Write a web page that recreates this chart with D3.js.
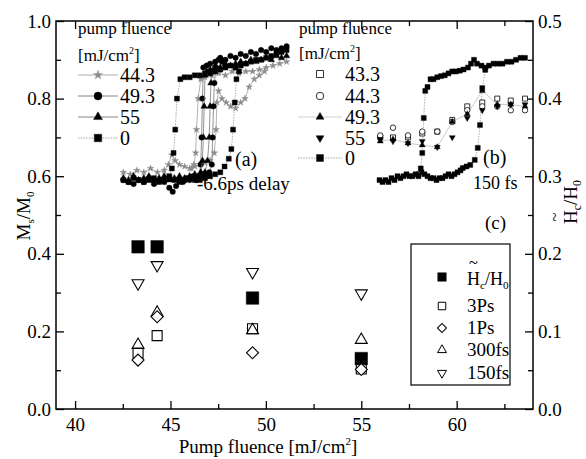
<!DOCTYPE html>
<html><head><meta charset="utf-8">
<script src="https://cdn.jsdelivr.net/npm/d3@7"></script>
<style>body{margin:0;background:#fff}</style>
</head><body><svg id="c" width="586" height="459" font-family="Liberation Serif, DejaVu Serif, serif"></svg>
<script>
// ---------- main panel (c) data ----------
const fluence = [43.3, 44.3, 49.3, 55];
const hcRatio = [0.209, 0.209, 0.143, 0.065];      // right axis  H~c/H0
const ms3ps   = [0.144, 0.189, 0.207, 0.103];      // left axis Ms/M0
const ms1ps   = [0.126, 0.238, 0.145, 0.102];
const ms300fs = [0.165, 0.248, 0.203, 0.178];
const ms150fs = [0.324, 0.371, 0.353, 0.298];
const xTicks = [40, 45, 50, 55, 60];
const xMinor = [42.5, 47.5, 52.5, 57.5, 62.5];
const yLeftTicks = [0, 0.2, 0.4, 0.6, 0.8, 1.0];
const yLeftMinor = [0.1, 0.3, 0.5, 0.7, 0.9];
const yRightTicks = [0, 0.1, 0.2, 0.3, 0.4, 0.5];
const yRightMinor = [0.05, 0.15, 0.25, 0.35, 0.45];

// ---------- inset (a): -6.6 ps delay, field H (a.u.) vs Ms/M0 ----------
const a443_low = [[-96,0.61],[-88,0.605],[-80,0.615],[-72,0.61],[-64,0.62],[-56,0.61],[-48,0.615],[-43,0.63],[-39,0.655],[-35,0.64],[-30,0.63],[-24,0.625],[-18,0.62],[-12,0.625],[-6,0.63],[0,0.635],[6,0.64],[11,0.66],[13,0.72],[14,0.79],[16,0.82],[20,0.80],[25,0.79],[30,0.78],[36,0.775],[42,0.79],[47,0.80],[52,0.83],[58,0.85],[64,0.86],[70,0.87]];
const a443_up  = [[96,0.895],[88,0.89],[80,0.885],[72,0.88],[64,0.875],[56,0.87],[48,0.87],[40,0.865],[32,0.87],[24,0.86],[16,0.865],[8,0.86],[0,0.855],[-5,0.85],[-8,0.80],[-10,0.72],[-11,0.66],[-13,0.63],[-16,0.62]];
const a493_low = [[-96,0.59],[-90,0.585],[-84,0.58],[-78,0.59],[-72,0.585],[-66,0.595],[-60,0.58],[-54,0.59],[-48,0.585],[-42,0.57],[-38,0.56],[-34,0.575],[-30,0.59],[-26,0.585],[-22,0.595],[-18,0.59],[-14,0.6],[-10,0.595],[-6,0.6],[-2,0.605],[2,0.6],[5,0.61],[8,0.63],[9,0.70],[10,0.78],[11,0.84],[13,0.88],[16,0.9],[20,0.895]];
const a493_up  = [[96,0.935],[90,0.93],[84,0.925],[78,0.93],[72,0.92],[66,0.925],[60,0.915],[54,0.92],[48,0.91],[42,0.915],[36,0.905],[30,0.91],[24,0.9],[18,0.905],[12,0.895],[6,0.89],[2,0.885],[-2,0.88],[-3,0.80],[-4,0.70],[-5,0.63],[-7,0.60],[-10,0.59]];
const a55_low  = [[-96,0.595],[-90,0.59],[-84,0.6],[-78,0.59],[-72,0.595],[-66,0.6],[-60,0.59],[-54,0.595],[-48,0.6],[-42,0.59],[-36,0.595],[-30,0.6],[-24,0.595],[-18,0.6],[-12,0.605],[-6,0.6],[0,0.61],[3,0.64],[5,0.70],[6,0.78],[7,0.84],[9,0.87],[12,0.88]];
const a55_up   = [[96,0.91],[90,0.905],[84,0.91],[78,0.9],[72,0.905],[66,0.9],[60,0.895],[54,0.9],[48,0.89],[42,0.895],[36,0.89],[30,0.885],[24,0.89],[18,0.88],[12,0.885],[6,0.875],[2,0.87],[0,0.86],[-1,0.78],[-2,0.70],[-3,0.64],[-5,0.61],[-8,0.60]];
const a0_low   = [[-96,0.59],[-90,0.585],[-84,0.595],[-78,0.59],[-72,0.585],[-66,0.59],[-60,0.595],[-54,0.585],[-48,0.59],[-42,0.595],[-36,0.59],[-30,0.585],[-24,0.59],[-18,0.595],[-12,0.59],[-6,0.59],[0,0.595],[6,0.60],[12,0.605],[18,0.61],[23,0.625],[28,0.645],[31,0.67],[33,0.72],[35,0.79],[37,0.85],[40,0.87]];
const a0_up    = [[96,0.925],[90,0.92],[84,0.915],[78,0.91],[72,0.905],[66,0.9],[60,0.9],[54,0.895],[48,0.89],[42,0.885],[36,0.88],[30,0.885],[24,0.88],[18,0.875],[12,0.87],[6,0.865],[0,0.865],[-6,0.86],[-12,0.86],[-18,0.855],[-24,0.855],[-29,0.85],[-33,0.80],[-35,0.72],[-37,0.66],[-39,0.62],[-42,0.60]];

// ---------- inset (b): 150 fs delay ----------
const bField = [-97, -80, -60, -41, -21, -1, 19, 39, 59, 77, 96];
const b433 = [0.70, 0.70, 0.70, 0.71, 0.715, 0.745, 0.78, 0.79, 0.80, 0.795, 0.80];
const b443 = [0.705, 0.725, 0.705, 0.715, 0.715, 0.74, 0.77, 0.78, 0.78, 0.77, 0.77];
const b493 = [0.69, 0.695, 0.685, 0.68, 0.675, 0.74, 0.76, 0.82, 0.785, 0.785, 0.78];
const b55  = [0.695, 0.69, 0.685, 0.69, 0.675, 0.70, 0.75, 0.77, 0.78, 0.785, 0.785];
const b0_low = [[-98,0.59],[-94,0.585],[-90,0.59],[-86,0.585],[-82,0.595],[-78,0.59],[-74,0.6],[-70,0.595],[-66,0.6],[-62,0.605],[-58,0.6],[-54,0.6],[-50,0.605],[-46,0.605],[-42,0.61],[-38,0.605],[-34,0.60],[-30,0.595],[-26,0.595],[-22,0.59],[-18,0.595],[-14,0.595],[-10,0.60],[-6,0.605],[-2,0.60],[2,0.605],[6,0.61],[10,0.615],[13,0.621],[18,0.625],[23,0.629],[29,0.642],[33,0.673],[36,0.732],[39,0.827],[43,0.874]];
const b0_up  = [[96,0.905],[90,0.905],[84,0.90],[78,0.895],[72,0.895],[66,0.89],[60,0.89],[54,0.89],[48,0.885],[43,0.88],[38,0.885],[32,0.89],[28,0.90],[24,0.89],[20,0.88],[14,0.875],[9,0.872],[4,0.87],[-1,0.87],[-6,0.865],[-11,0.86],[-16,0.858],[-21,0.855],[-26,0.85],[-30,0.85],[-34,0.83],[-37,0.82],[-39,0.75],[-41,0.66],[-43,0.62],[-46,0.60]];

const legA = ["44.3", "49.3", "55", "0"];
const legB = ["43.3", "44.3", "49.3", "55", "0"];
const legC = ["3Ps", "1Ps", "300fs", "150fs"];

// ---------- setup ----------
const svg = d3.select('#c');
const FONT = 'Liberation Serif, DejaVu Serif, serif';
const x  = d3.scaleLinear().domain([39, 64]).range([56, 533]);
const yL = d3.scaleLinear().domain([0, 1]).range([409, 21]);
const yR = d3.scaleLinear().domain([0, 0.5]).range([409, 21]);
const xa = d3.scaleLinear().domain([-100, 100]).range([120, 290]);
const xb = d3.scaleLinear().domain([-100, 100]).range([378, 528]);

function T(parent) { return parent.append('text').attr('font-family', FONT).attr('fill', '#000'); }

function symPath(type, w) {
  const t = {square:d3.symbolSquare, circle:d3.symbolCircle, triangle:d3.symbolTriangle,
             tridown:d3.symbolTriangle, diamond:d3.symbolSquare, star:d3.symbolStar}[type];
  let size;
  if (type === 'square') size = w*w;
  else if (type === 'circle') size = Math.PI*w*w/4;
  else if (type === 'triangle' || type === 'tridown') size = 0.433*w*w;
  else if (type === 'diamond') size = w*w/2;
  else size = (w/2)*(w/2)/0.8908;
  return d3.symbol(t, size)();
}
function rot(type){ return type==='tridown'?180:(type==='diamond'?45:0); }
function marker(g, type, cx, cy, w, fill, stroke, sw) {
  g.append('path').attr('d', symPath(type, w))
    .attr('transform', `translate(${cx},${cy}) rotate(${rot(type)})`)
    .attr('fill', fill).attr('stroke', stroke).attr('stroke-width', sw || 1);
}
function axisG(gen, tr, vals, size, fmt, pad) {
  const g = svg.append('g').attr('transform', tr)
    .call(gen.tickValues(vals).tickSize(size).tickSizeOuter(0).tickPadding(pad || 3)
      .tickFormat(fmt || (() => '')));
  g.select('.domain').remove();
  g.attr('font-family', FONT).attr('font-size', 19);
  g.selectAll('line').attr('stroke', '#000').attr('stroke-width', 1.3);
  g.selectAll('text').attr('fill', '#000').attr('font-family', FONT);
  return g;
}
const f1 = d3.format('.1f');
axisG(d3.axisBottom(x), 'translate(0,409)', xTicks, -8, d3.format('d'), 9);
axisG(d3.axisBottom(x), 'translate(0,409)', xMinor, -5);
axisG(d3.axisTop(x), 'translate(0,21)', xTicks, -8);
axisG(d3.axisTop(x), 'translate(0,21)', xMinor, -5);
axisG(d3.axisLeft(yL), 'translate(56,0)', yLeftTicks, -8, f1, 5);
axisG(d3.axisLeft(yL), 'translate(56,0)', yLeftMinor, -5);
axisG(d3.axisRight(yR), 'translate(533,0)', yRightTicks, -8, f1, 5);
axisG(d3.axisRight(yR), 'translate(533,0)', yRightMinor, -5);
svg.append('rect').attr('x', 56).attr('y', 21).attr('width', 477).attr('height', 388)
  .attr('fill', 'none').attr('stroke', '#000').attr('stroke-width', 1.5);

// axis titles
const xt = T(svg).attr('x', 268).attr('y', 453).attr('text-anchor', 'middle').attr('font-size', 19);
xt.append('tspan').text('Pump fluence [mJ/cm');
xt.append('tspan').attr('font-size', 11).attr('dy', -8).text('2');
xt.append('tspan').attr('dy', 8).text(']');

const yt = T(svg.append('g').attr('transform', 'translate(30,216) rotate(-90)'))
  .attr('text-anchor', 'middle').attr('font-size', 19);
yt.append('tspan').text('M');
yt.append('tspan').attr('font-size', 11).attr('dy', 4).text('s');
yt.append('tspan').attr('dy', -4).text('/M');
yt.append('tspan').attr('font-size', 11).attr('dy', 4).text('0');

function hcLabel(parent, xx, yy, fs, anchor) {
  const t = T(parent).attr('x', xx).attr('y', yy).attr('font-size', fs).attr('text-anchor', anchor);
  t.append('tspan').text('H');
  t.append('tspan').attr('font-size', fs*0.62).attr('dy', 4).text('c');
  t.append('tspan').attr('dy', -4).text('/H');
  t.append('tspan').attr('font-size', fs*0.62).attr('dy', 4).text('0');
  const ext = t.node().getExtentOfChar(0);
  T(parent).attr('x', ext.x + ext.width/2).attr('y', yy - fs*0.92)
    .attr('text-anchor', 'middle').attr('font-size', fs*0.9).text('~');
}
const rg = svg.append('g').attr('transform', 'translate(577,202) rotate(-90)');
hcLabel(rg, 0, 0, 19, 'middle');

// ---------- main (c) markers ----------
const gc = svg.append('g');
fluence.forEach((f, i) => marker(gc, 'tridown', x(f), yL(ms150fs[i]), 12, 'none', '#000', 1.1));
fluence.forEach((f, i) => marker(gc, 'triangle', x(f), yL(ms300fs[i]), 12, 'none', '#000', 1.1));
fluence.forEach((f, i) => marker(gc, 'square', x(f), yL(ms3ps[i]), 10, 'none', '#000', 1.1));
fluence.forEach((f, i) => marker(gc, 'square', x(f), yR(hcRatio[i]), 12.5, '#000', '#000', 0.5));
fluence.forEach((f, i) => marker(gc, 'diamond', x(f), yL(ms1ps[i]), 12, '#fff', '#000', 1.1));

// legend (c)
svg.append('rect').attr('x', 411).attr('y', 244).attr('width', 99).attr('height', 141)
  .attr('fill', '#fff').attr('stroke', '#000').attr('stroke-width', 1.2);
marker(svg, 'square', 442, 277, 8.5, '#000', '#000', 0.5);
hcLabel(svg, 467, 285, 18, 'start');
const legCTypes = ['square', 'diamond', 'triangle', 'tridown'];
const legCY = [306, 328, 350, 373];
legC.forEach((l, i) => {
  marker(svg, legCTypes[i], 442, legCY[i], legCTypes[i]==='square'?7.5:9, '#fff', '#000', 1);
  T(svg).attr('x', 467).attr('y', legCY[i] + 6).attr('font-size', 19).text(l);
});
T(svg).attr('x', 485).attr('y', 229).attr('font-size', 19).text('(c)');

// ---------- inset (a) ----------
const ga = svg.append('g');
const lineA = d3.line().x(d => xa(d[0])).y(d => yL(d[1]));
const aSeries = [
  {low:a443_low, up:a443_up, type:'star', w:7, fill:'#8c8c8c', stroke:'#8c8c8c', line:'#a0a0a0', dash:null},
  {low:a493_low, up:a493_up, type:'circle', w:5.5, fill:'#000', stroke:'#000', line:'#777', dash:null},
  {low:a55_low, up:a55_up, type:'triangle', w:6.5, fill:'#000', stroke:'#000', line:'#777', dash:null},
  {low:a0_low, up:a0_up, type:'square', w:5, fill:'#000', stroke:'#000', line:'#999', dash:'1.5,1.2'}
];
aSeries.forEach(s => {
  [s.low, s.up].forEach(br => {
    ga.append('path').attr('d', lineA(br)).attr('fill', 'none').attr('stroke', s.line)
      .attr('stroke-width', 0.8).attr('stroke-dasharray', s.dash);
    br.forEach(d => marker(ga, s.type, xa(d[0]), yL(d[1]), s.w, s.fill, s.stroke, 0.4));
  });
});
T(svg).attr('x', 78).attr('y', 34).attr('font-size', 17).text('pump fluence');
const ua = T(svg).attr('x', 78).attr('y', 61).attr('font-size', 17);
ua.append('tspan').text('[mJ/cm');
ua.append('tspan').attr('font-size', 10).attr('dy', -7).text('2');
ua.append('tspan').attr('dy', 7).text(']');
const legAY = [75, 96, 117, 138];
legA.forEach((l, i) => {
  const s = aSeries[i];
  svg.append('line').attr('x1', 78).attr('x2', 118).attr('y1', legAY[i]).attr('y2', legAY[i])
    .attr('stroke', s.line).attr('stroke-width', 0.9).attr('stroke-dasharray', s.dash);
  marker(svg, s.type, 98, legAY[i], s.w + 2.5, s.fill, s.stroke, 0.4);
  T(svg).attr('x', 120).attr('y', legAY[i] + 7).attr('font-size', 20).text(l);
});
T(svg).attr('x', 235).attr('y', 166).attr('font-size', 20).text('(a)');
T(svg).attr('x', 197).attr('y', 190).attr('font-size', 19).text('-6.6ps delay');

// ---------- inset (b) ----------
const gb = svg.append('g');
const lineB = d3.line().x(d => xb(d[0])).y(d => yL(d[1]));
[b0_low, b0_up].forEach(br => {
  gb.append('path').attr('d', lineB(br)).attr('fill', 'none').attr('stroke', '#999')
    .attr('stroke-width', 0.8).attr('stroke-dasharray', '1.5,1.2');
  br.forEach(d => marker(gb, 'square', xb(d[0]), yL(d[1]), 5, '#000', '#000', 0.4));
});
const lineB2 = d3.line().x((d, i) => xb(bField[i])).y(d => yL(d));
gb.append('path').attr('d', lineB2(b493)).attr('fill', 'none').attr('stroke', '#bbb').attr('stroke-width', 0.8);
const bSeries = [
  {v:b433, type:'square', w:5, fill:'#fff', stroke:'#000', sw:0.8},
  {v:b443, type:'circle', w:5.5, fill:'#fff', stroke:'#000', sw:0.8},
  {v:b493, type:'triangle', w:6, fill:'#000', stroke:'#000', sw:0.4},
  {v:b55, type:'tridown', w:6, fill:'#000', stroke:'#000', sw:0.4}
];
bSeries.forEach(s => s.v.forEach((v, i) => marker(gb, s.type, xb(bField[i]), yL(v), s.w, s.fill, s.stroke, s.sw)));
T(svg).attr('x', 299).attr('y', 34).attr('font-size', 17).text('pump fluence');
const ub = T(svg).attr('x', 299).attr('y', 59).attr('font-size', 17);
ub.append('tspan').text('[mJ/cm');
ub.append('tspan').attr('font-size', 10).attr('dy', -7).text('2');
ub.append('tspan').attr('dy', 7).text(']');
const legBY = [74, 96, 117, 138, 158];
const legBTypes = [bSeries[0], bSeries[1], bSeries[2], bSeries[3], {type:'square', w:5, fill:'#000', stroke:'#000', sw:0.4}];
legB.forEach((l, i) => {
  const s = legBTypes[i];
  if (i === 2 || i === 4) svg.append('line').attr('x1', 298).attr('x2', 342).attr('y1', legBY[i]).attr('y2', legBY[i])
      .attr('stroke', i === 4 ? '#999' : '#ccc').attr('stroke-width', 0.9).attr('stroke-dasharray', i === 4 ? '1.5,1.2' : null);
  marker(svg, s.type, 320, legBY[i], s.w + 2, s.fill, s.stroke, s.sw);
  T(svg).attr('x', 345).attr('y', legBY[i] + 7).attr('font-size', 20).text(l);
});
T(svg).attr('x', 483).attr('y', 164).attr('font-size', 20).text('(b)');
T(svg).attr('x', 473).attr('y', 189).attr('font-size', 18).text('150 fs');
</script></body></html>
